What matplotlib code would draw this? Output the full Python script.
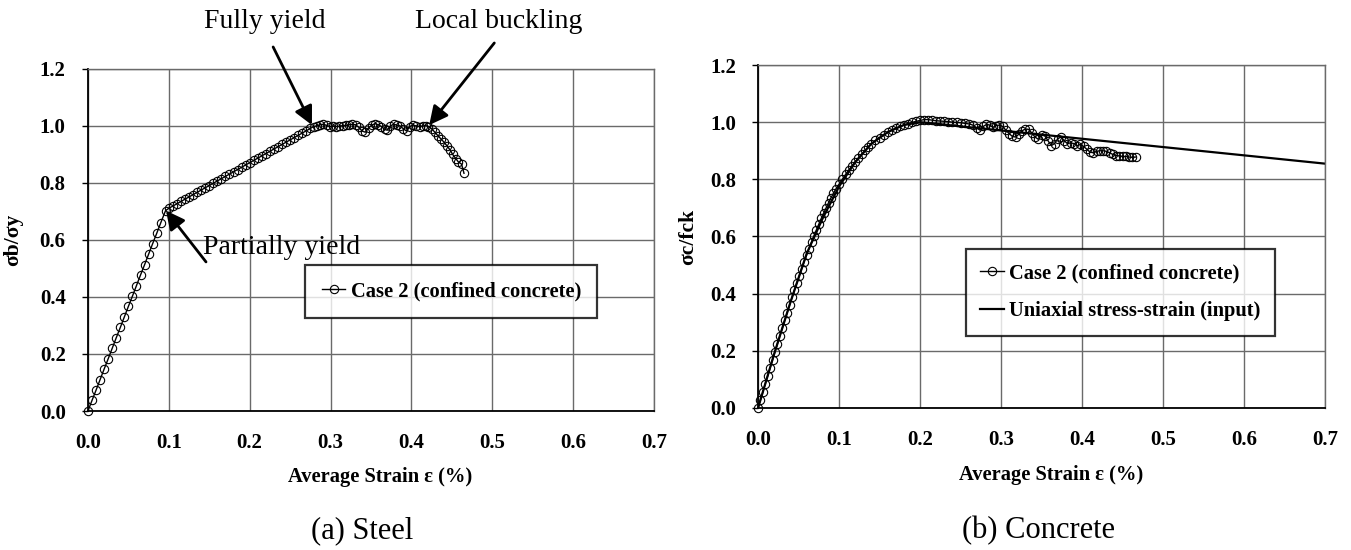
"""Steel and concrete normalised stress-strain curves (Case 2, confined concrete)."""

import matplotlib
matplotlib.use("Agg")
import matplotlib.pyplot as plt
import matplotlib.ticker as mticker

BLACK = "#000000"
GRID = "#6a6a6a"

plt.rcParams.update({
    "font.family": ["Liberation Serif", "DejaVu Serif"],
    "font.weight": "bold",
    "font.size": 14,
    "axes.linewidth": 1.0,
})

# ---------------------------------------------------------------------------
# Data
# ---------------------------------------------------------------------------

# (a) steel: average strain (%) vs sigma_b / sigma_y
steel_strain = [
    0.000, 0.005, 0.010, 0.015, 0.020, 0.025, 0.030, 0.035, 0.040, 0.045,
    0.050, 0.055, 0.060, 0.065, 0.070, 0.075, 0.080, 0.085, 0.090, 0.096,
    0.100, 0.105, 0.110, 0.115, 0.120, 0.125, 0.130, 0.135, 0.140, 0.145,
    0.150, 0.155, 0.160, 0.165, 0.170, 0.175, 0.180, 0.185, 0.190, 0.195,
    0.200, 0.205, 0.210, 0.215, 0.220, 0.225, 0.230, 0.235, 0.240, 0.245,
    0.250, 0.255, 0.260, 0.265, 0.270, 0.275, 0.279, 0.283, 0.287, 0.291,
    0.295, 0.299, 0.303, 0.307, 0.311, 0.315, 0.319, 0.323, 0.327, 0.331,
    0.335, 0.339, 0.343, 0.347, 0.351, 0.355, 0.359, 0.363, 0.367, 0.370,
    0.374, 0.378, 0.382, 0.386, 0.390, 0.394, 0.398, 0.402, 0.406, 0.410,
    0.414, 0.418, 0.421, 0.425, 0.429, 0.433, 0.437, 0.440, 0.444, 0.448,
    0.451, 0.455, 0.458, 0.462, 0.465,
]
steel_stress = [
    0.000, 0.037, 0.073, 0.110, 0.147, 0.183, 0.220, 0.257, 0.293, 0.330,
    0.367, 0.403, 0.440, 0.477, 0.513, 0.550, 0.587, 0.623, 0.660, 0.703,
    0.711, 0.719, 0.727, 0.735, 0.743, 0.751, 0.759, 0.767, 0.775, 0.783,
    0.791, 0.799, 0.807, 0.815, 0.823, 0.831, 0.839, 0.847, 0.855, 0.863,
    0.871, 0.879, 0.887, 0.895, 0.903, 0.911, 0.919, 0.927, 0.935, 0.943,
    0.951, 0.959, 0.967, 0.975, 0.983, 0.991, 0.998, 1.000, 1.004, 1.006,
    1.002, 0.998, 0.999, 0.998, 0.999, 1.001, 1.002, 1.004, 1.006, 1.004,
    0.995, 0.982, 0.978, 0.993, 1.003, 1.008, 1.004, 0.998, 0.988, 0.985,
    1.000, 1.006, 1.003, 1.000, 0.990, 0.982, 0.998, 1.003, 1.000, 0.998,
    1.000, 1.001, 0.998, 0.990, 0.978, 0.965, 0.953, 0.944, 0.930, 0.915,
    0.900, 0.885, 0.874, 0.866, 0.834,
]

# (b) concrete: FE result for confined concrete
conc_strain = [
    0.000, 0.003, 0.006, 0.009, 0.012, 0.015, 0.018, 0.021, 0.024, 0.027,
    0.030, 0.033, 0.036, 0.039, 0.042, 0.045, 0.048, 0.051, 0.054, 0.057,
    0.060, 0.063, 0.066, 0.069, 0.072, 0.075, 0.078, 0.081, 0.084, 0.087,
    0.090, 0.093, 0.096, 0.100, 0.104, 0.108, 0.112, 0.116, 0.120, 0.124,
    0.128, 0.132, 0.136, 0.140, 0.145, 0.150, 0.155, 0.160, 0.165, 0.170,
    0.175, 0.180, 0.185, 0.190, 0.195, 0.200, 0.205, 0.210, 0.215, 0.220,
    0.225, 0.230, 0.235, 0.240, 0.245, 0.250, 0.255, 0.260, 0.265, 0.270,
    0.274, 0.278, 0.282, 0.286, 0.290, 0.294, 0.298, 0.302, 0.306, 0.310,
    0.314, 0.318, 0.322, 0.326, 0.330, 0.334, 0.338, 0.342, 0.346, 0.350,
    0.354, 0.358, 0.362, 0.366, 0.370, 0.374, 0.378, 0.382, 0.386, 0.390,
    0.394, 0.398, 0.402, 0.406, 0.410, 0.414, 0.418, 0.422, 0.426, 0.430,
    0.434, 0.438, 0.442, 0.446, 0.450, 0.454, 0.458, 0.462, 0.466,
]
conc_stress = [
    0.000, 0.028, 0.056, 0.085, 0.113, 0.141, 0.169, 0.197, 0.225, 0.253,
    0.280, 0.307, 0.334, 0.361, 0.387, 0.413, 0.438, 0.463, 0.488, 0.512,
    0.535, 0.558, 0.580, 0.602, 0.623, 0.643, 0.663, 0.682, 0.700, 0.718,
    0.735, 0.751, 0.766, 0.783, 0.800, 0.817, 0.833, 0.848, 0.862, 0.876,
    0.889, 0.901, 0.913, 0.924, 0.936, 0.946, 0.955, 0.964, 0.972, 0.979,
    0.985, 0.990, 0.995, 0.999, 1.003, 1.006, 1.009, 1.009, 1.007, 1.005,
    1.004, 1.003, 1.002, 1.000, 0.999, 0.998, 0.996, 0.994, 0.990, 0.980,
    0.972, 0.985, 0.992, 0.990, 0.982, 0.988, 0.990, 0.985, 0.972, 0.960,
    0.950, 0.948, 0.958, 0.970, 0.976, 0.975, 0.962, 0.948, 0.940, 0.955,
    0.952, 0.935, 0.918, 0.925, 0.942, 0.948, 0.935, 0.925, 0.928, 0.925,
    0.918, 0.922, 0.915, 0.905, 0.895, 0.893, 0.898, 0.900, 0.900, 0.898,
    0.893, 0.887, 0.883, 0.882, 0.880, 0.880, 0.878, 0.877, 0.878,
]

# (b) concrete: uniaxial stress-strain law used as input
input_strain = [0.000, 0.020, 0.040, 0.060, 0.080, 0.100, 0.120, 0.140,
                0.160, 0.180, 0.200, 0.710]
input_stress = [0.000, 0.190, 0.370, 0.540, 0.665, 0.775, 0.860, 0.925,
                0.965, 0.990, 1.000, 0.852]

X_TICKS = [0.0, 0.1, 0.2, 0.3, 0.4, 0.5, 0.6, 0.7]
Y_TICKS = [0.0, 0.2, 0.4, 0.6, 0.8, 1.0, 1.2]

CASE_LABEL = "Case 2 (confined concrete)"
INPUT_LABEL = "Uniaxial stress-strain (input)"


def style_axes(ax, ylabel, ylabel_x):
    ax.set_xlim(0, 0.7)
    ax.set_ylim(0, 1.2)
    ax.set_xticks(X_TICKS)
    ax.set_yticks(Y_TICKS)
    ax.xaxis.set_major_formatter(mticker.FormatStrFormatter("%.1f"))
    ax.yaxis.set_major_formatter(mticker.FormatStrFormatter("%.1f"))
    ax.grid(True, color=GRID, linewidth=1.0)
    ax.set_axisbelow(True)
    for side in ("top", "right"):
        ax.spines[side].set_color(GRID)
    for side in ("left", "bottom"):
        ax.spines[side].set_color(BLACK)
        ax.spines[side].set_linewidth(1.3)
    ax.tick_params(axis="x", length=0, pad=16, labelsize=15)
    ax.tick_params(axis="y", length=4, width=1, direction="out", pad=12, labelsize=15)
    ax.set_xlabel("Average Strain ε (%)", fontsize=14.8, fontweight="bold")
    ax.xaxis.set_label_coords(0.517, -0.165)
    ax.set_ylabel(ylabel, fontsize=15.5, fontweight="bold")
    ax.yaxis.set_label_coords(ylabel_x, 0.5)


def legend_box(ax, center, pad, spacing):
    leg = ax.legend(
        loc="center", bbox_to_anchor=center, fontsize=14.8, frameon=True,
        fancybox=False, handlelength=1.15, handletextpad=0.25,
        borderpad=pad, labelspacing=spacing, numpoints=1,
    )
    leg.get_frame().set_edgecolor(BLACK)
    leg.get_frame().set_linewidth(1.6)
    return leg


def arrow(ax, tip, tail):
    ax.annotate(
        "", xy=tip, xytext=tail, annotation_clip=False,
        arrowprops=dict(arrowstyle="-|>", color=BLACK, lw=2.0,
                        mutation_scale=28, shrinkA=0, shrinkB=0),
    )


def build_steel(ax):
    ax.plot(steel_strain, steel_stress, color=BLACK, linewidth=1.0,
            marker="o", markersize=6, markerfacecolor="none",
            markeredgewidth=0.8, label=CASE_LABEL, clip_on=False)
    style_axes(ax, "σb/σy", -0.114)
    legend_box(ax, (0.642, 0.349), 0.8, 0.75)

    note = dict(fontsize=20, fontweight="normal", clip_on=False)
    ax.text(0.219, 1.365, "Fully yield", ha="center", va="center", **note)
    ax.text(0.5075, 1.365, "Local buckling", ha="center", va="center", **note)
    ax.text(0.1417, 0.572, "Partially yield", ha="left", va="center", **note)
    arrow(ax, (0.277, 1.003), (0.229, 1.277))
    arrow(ax, (0.422, 1.003), (0.5025, 1.291))
    arrow(ax, (0.0965, 0.703), (0.146, 0.523))


def build_concrete(ax):
    ax.plot(conc_strain, conc_stress, color=BLACK, linewidth=1.0,
            marker="o", markersize=6, markerfacecolor="none",
            markeredgewidth=0.8, label=CASE_LABEL, clip_on=False)
    ax.plot(input_strain, input_stress, color=BLACK, linewidth=1.6,
            label=INPUT_LABEL)
    style_axes(ax, "σc/fck", -0.105)
    legend_box(ax, (0.6385, 0.337), 0.7, 0.85)


def main():
    fig = plt.figure(figsize=(13.51, 5.5), dpi=100)
    ax_steel = fig.add_axes([0.0651, 0.2527, 0.4190, 0.6220])
    ax_conc = fig.add_axes([0.5611, 0.2582, 0.4197, 0.6236])

    build_steel(ax_steel)
    build_concrete(ax_conc)

    cap = dict(ha="center", va="center", fontsize=22, fontweight="normal")
    fig.text(362 / 1351, 1 - 531 / 550, "(a) Steel", **cap)
    fig.text(1039 / 1351, 1 - 531 / 550, "(b) Concrete", **cap)

    fig.savefig("out.png", dpi=100, facecolor="white")
    plt.close(fig)


if __name__ == "__main__":
    main()
